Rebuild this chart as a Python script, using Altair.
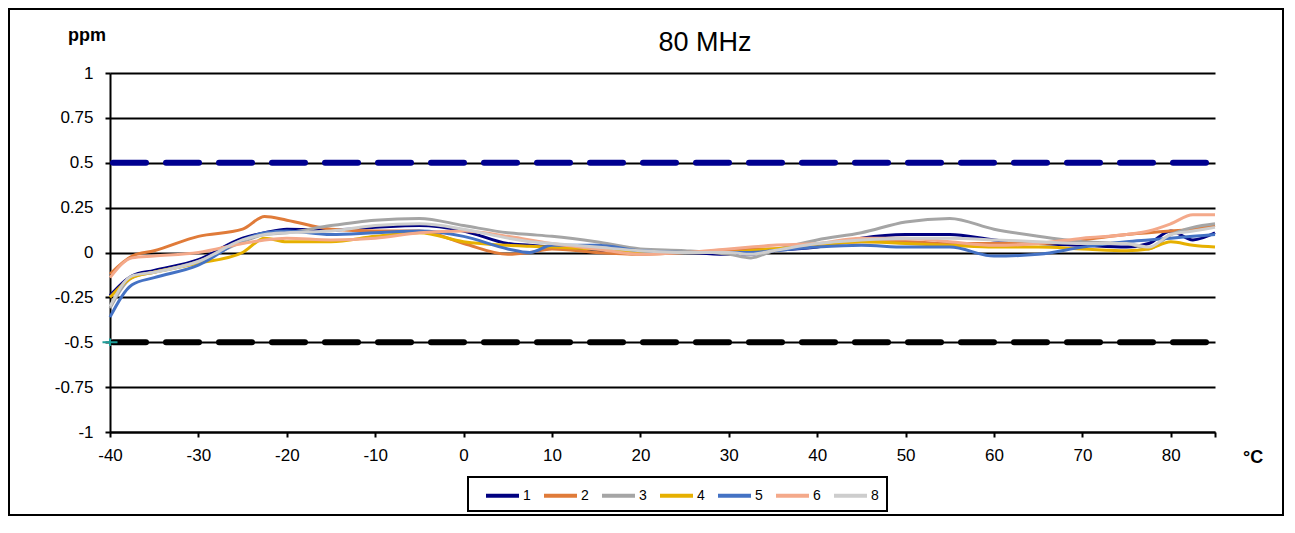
import altair as alt
import pandas as pd

# ---- data ----
TEMPS = [-40, -37.5, -35, -30, -25, -22.5, -20, -15, -10, -5,
         0, 5, 7.5, 10, 15, 20, 25, 30, 32.5, 35,
         40, 45, 50, 55, 60, 65, 70, 75, 77.5, 80,
         82.5, 85]

S1 = [-0.24, -0.13, -0.10, -0.04, 0.08, 0.11, 0.13, 0.125, 0.14, 0.15,
      0.12, 0.05, 0.04, 0.03, 0.01, 0.0, 0.0, -0.01, -0.01, 0.01,
      0.03, 0.08, 0.10, 0.10, 0.07, 0.05, 0.04, 0.03, 0.05, 0.12,
      0.07, 0.11]
S2 = [-0.12, -0.02, 0.01, 0.09, 0.13, 0.20, 0.18, 0.13, 0.12, 0.12,
      0.05, -0.01, 0.0, 0.02, 0.0, -0.01, 0.0, 0.01, 0.02, 0.02,
      0.04, 0.06, 0.06, 0.05, 0.05, 0.05, 0.07, 0.10, 0.11, 0.12,
      0.13, 0.15]
S3 = [-0.31, -0.14, -0.11, -0.05, 0.06, 0.10, 0.11, 0.15, 0.18, 0.19,
      0.15, 0.11, 0.10, 0.09, 0.06, 0.02, 0.01, -0.01, -0.03, 0.01,
      0.07, 0.11, 0.17, 0.19, 0.13, 0.09, 0.06, 0.05, 0.02, 0.10,
      0.14, 0.16]
S4 = [-0.25, -0.14, -0.11, -0.06, 0.0, 0.08, 0.06, 0.06, 0.09, 0.11,
      0.06, 0.04, 0.035, 0.03, 0.02, 0.0, 0.0, 0.0, 0.01, 0.02,
      0.04, 0.06, 0.05, 0.04, 0.03, 0.03, 0.02, 0.01, 0.02, 0.06,
      0.04, 0.03]
S5 = [-0.36, -0.18, -0.14, -0.07, 0.07, 0.11, 0.12, 0.10, 0.11, 0.12,
      0.09, 0.02, 0.0, 0.04, 0.04, 0.01, 0.0, 0.0, 0.0, 0.01,
      0.03, 0.04, 0.03, 0.03, -0.02, -0.01, 0.03, 0.06, 0.07, 0.08,
      0.09, 0.10]
S6 = [-0.14, -0.03, -0.02, 0.0, 0.05, 0.07, 0.08, 0.07, 0.08, 0.11,
      0.12, 0.09, 0.07, 0.05, 0.02, -0.01, 0.0, 0.02, 0.03, 0.04,
      0.05, 0.08, 0.08, 0.06, 0.04, 0.05, 0.08, 0.10, 0.12, 0.16,
      0.21, 0.21]
S8 = [-0.30, -0.13, -0.11, -0.05, 0.07, 0.10, 0.11, 0.12, 0.15, 0.16,
      0.13, 0.08, 0.06, 0.05, 0.03, 0.01, 0.0, 0.0, -0.01, 0.01,
      0.05, 0.07, 0.08, 0.08, 0.07, 0.06, 0.05, 0.05, 0.03, 0.10,
      0.12, 0.14]

SERIES = ["1", "2", "3", "4", "5", "6", "8"]
COLORS = ["#000080", "#E07B39", "#A5A5A5", "#E6B000", "#4472C4", "#F4A98A", "#CDCDCD"]

Y_TICKS = [-1, -0.75, -0.5, -0.25, 0, 0.25, 0.5, 0.75, 1]
X_TICKS = [-40, -30, -20, -10, 0, 10, 20, 30, 40, 50, 60, 70, 80, 85]

LIMITS = [0.5, -0.5]
LIMIT_COLORS = ["#000090", "#000000"]

TITLE = "80 MHz"
Y_UNIT = "ppm"
X_UNIT = "°C"

# ---- tables ----
rows = []
for name, vals in zip(SERIES, [S1, S2, S3, S4, S5, S6, S8]):
    for t, v in zip(TEMPS, vals):
        rows.append({"T": t, "v": v, "s": name})
df = pd.DataFrame(rows)

lim_df = pd.DataFrame({"y": LIMITS, "c": LIMIT_COLORS, "x0": [-40, -40], "x1": [85, 85]})
marker_df = pd.DataFrame({"x": [-40], "y": [-0.5]})
one = pd.DataFrame({"k": [0]})

W, H = 1105, 359
PAD = {"left": 102, "top": 65, "right": 70, "bottom": 85}

x_scale = alt.Scale(domain=[-40, 85], nice=False, zero=False)
y_scale = alt.Scale(domain=[-1, 1], nice=False, zero=False)

x_axis = alt.Axis(values=X_TICKS, grid=False, title=None, labelPadding=10, labelFlush=False,
                  labelExpr="datum.value == 85 ? '' : '' + datum.value")
y_axis = alt.Axis(values=Y_TICKS, grid=True, title=None, labelPadding=12, labelFlush=False,
                  labelExpr="'' + datum.value")

frame = alt.Chart(one).mark_rect(filled=False, stroke="black", strokeWidth=2).encode(
    x=alt.value(-101), x2=alt.value(W + PAD["right"] - 2),
    y=alt.value(-64), y2=alt.value(H + PAD["bottom"] - 2),
)

limits = alt.Chart(lim_df).mark_rule(strokeWidth=6, strokeDash=[33, 20], strokeDashOffset=50,
                                     strokeCap="round").encode(
    x=alt.X("x0:Q", scale=x_scale, axis=x_axis),
    x2="x1:Q",
    y=alt.Y("y:Q", scale=y_scale, axis=y_axis),
    stroke=alt.Stroke("c:N", scale=None),
)

lines = alt.Chart(df).mark_line(strokeWidth=3, interpolate="monotone").encode(
    x=alt.X("T:Q", scale=x_scale, axis=x_axis),
    y=alt.Y("v:Q", scale=y_scale, axis=y_axis),
    color=alt.Color("s:N", scale=alt.Scale(domain=SERIES, range=COLORS),
                    legend=alt.Legend(title=None, orient="none", legendX=374, legendY=404,
                                      direction="horizontal", columns=7,
                                      symbolType="stroke", symbolSize=1089,
                                      symbolStrokeWidth=4, labelFontSize=14,
                                      labelFont="Liberation Sans", labelColor="black",
                                      labelOffset=2, columnPadding=5, padding=0)),
)

marker = alt.Chart(marker_df).mark_point(shape="M-1,0L1,0M0,-0.5L0,0.5", size=225,
                                         filled=False, stroke="#1E9E9A", strokeWidth=2,
                                         opacity=1).encode(
    x=alt.X("x:Q", scale=x_scale), y=alt.Y("y:Q", scale=y_scale))

title_t = alt.Chart(pd.DataFrame({"t": [TITLE]})).mark_text(
    font="Liberation Sans", fontSize=27, align="center", baseline="middle", color="black"
).encode(x=alt.value(595), y=alt.value(-30), text="t:N")

ppm_t = alt.Chart(pd.DataFrame({"t": [Y_UNIT]})).mark_text(
    font="Liberation Sans", fontSize=18, fontWeight="bold", align="left",
    baseline="alphabetic", color="black"
).encode(x=alt.value(-42), y=alt.value(-32), text="t:N")

deg_t = alt.Chart(pd.DataFrame({"t": [X_UNIT]})).mark_text(
    font="Liberation Sans", fontSize=18, fontWeight="bold", align="left",
    baseline="alphabetic", color="black"
).encode(x=alt.value(1133), y=alt.value(390), text="t:N")

legend_box = alt.Chart(one).mark_rect(fill="white", stroke="black", strokeWidth=2).encode(
    x=alt.value(358), x2=alt.value(777), y=alt.value(404), y2=alt.value(438))

chart = alt.layer(frame, limits, lines, marker, title_t, ppm_t, deg_t, legend_box).properties(
    width=W, height=H, padding=PAD, autosize=alt.AutoSizeParams(type="none"),
    background="white",
).configure_view(strokeWidth=0).configure_axis(
    domainColor="black", domainWidth=2, tickColor="black", tickWidth=2, tickSize=5,
    labelFont="Liberation Sans", labelFontSize=17, labelColor="black",
    gridColor="black", gridWidth=2,
)

chart.save("out.html", embed_options={"renderer": "svg", "actions": False})
